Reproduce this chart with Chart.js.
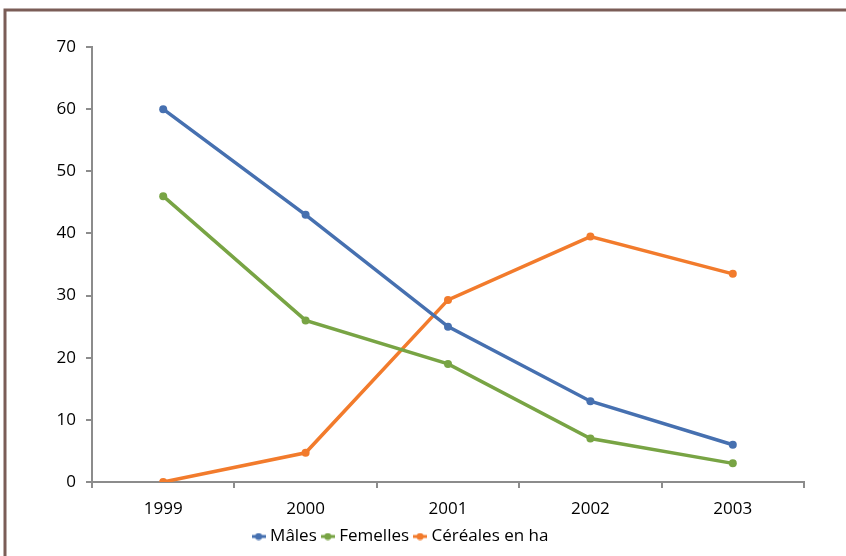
<!DOCTYPE html>
<html>
<head>
<meta charset="utf-8">
<script src="https://cdn.jsdelivr.net/npm/chart.js@4.4.0/dist/chart.umd.min.js"></script>
<style>
  html, body { margin: 0; padding: 0; background: #fff; }
  #wrap { width: 846px; height: 556px; position: relative; }
</style>
</head>
<body>
<div id="wrap"><canvas id="myChart" width="846" height="556"></canvas></div>
<script>
// data
const years = ['1999', '2000', '2001', '2002', '2003'];
const males = [60, 43, 25, 13, 6];
const females = [46, 26, 19, 7, 3];
const cereals = [0, 4.7, 29.3, 39.5, 33.5];
const seriesNames = ['Mâles', 'Femelles', 'Céréales en ha'];

const blueColor = '#4670b0';
const greenColor = '#78a444';
const orangeColor = '#f27b2c';
const axisColor = '#8c8c8c';

// little line-with-dot marker for the legend
function legendMarker(color){
  let c = document.createElement('canvas');
  c.width = 14; c.height = 8;
  let ctx = c.getContext('2d');
  ctx.strokeStyle = color;
  ctx.lineWidth = 3;
  ctx.beginPath();
  ctx.moveTo(0, 4); ctx.lineTo(14, 4);
  ctx.stroke();
  ctx.fillStyle = color;
  ctx.beginPath();
  ctx.arc(7, 4, 3.5, 0, Math.PI * 2);
  ctx.fill();
  return c;
}

// frame lines on top and left, like the cropped border in the picture
const framePlugin = {
  id: 'frame',
  beforeDraw(chart){
    const ctx = chart.ctx;
    ctx.save();
    ctx.strokeStyle = '#7b5d57';
    ctx.lineWidth = 3;
    ctx.beginPath();
    ctx.moveTo(5, 560);
    ctx.lineTo(5, 10);
    ctx.lineTo(850, 10);
    ctx.stroke();
    ctx.restore();
  }
};

function makeSet(label, values, color){
  return {
    label: label,
    data: values,
    borderColor: color,
    backgroundColor: color,
    borderWidth: 3.5,
    pointRadius: 4,
    pointHoverRadius: 4,
    pointBorderWidth: 0,
    tension: 0,
    pointStyle: 'circle'
  };
}

const data = {
  labels: years,
  datasets: [
    makeSet(seriesNames[0], males, blueColor),
    makeSet(seriesNames[1], females, greenColor),
    makeSet(seriesNames[2], cereals, orangeColor)
  ]
};

const markers = [legendMarker(blueColor), legendMarker(greenColor), legendMarker(orangeColor)];

const config = {
  type: 'line',
  data: data,
  plugins: [framePlugin],
  options: {
    responsive: false,
    animation: false,
    layout: { padding: { left: 0, right: 42, top: 47, bottom: 1 } },
    plugins: {
      tooltip: { enabled: false },
      legend: {
        position: 'bottom',
        labels: {
          color: '#000',
          font: { family: 'Open Sans', size: 17 },
          usePointStyle: true,
          pointStyleWidth: 6,
          padding: 8,
          generateLabels(chart){
            return chart.data.datasets.map((ds, i) => ({
              text: ds.label,
              pointStyle: markers[i],
              fillStyle: ds.borderColor,
              strokeStyle: ds.borderColor,
              lineWidth: 0,
              fontColor: '#000',
              datasetIndex: i,
              hidden: false
            }));
          }
        }
      }
    },
    scales: {
      x: {
        offset: true,
        grid: {
          offset: true,
          drawOnChartArea: false,
          drawTicks: true,
          tickLength: 6,
          color: axisColor,
          lineWidth: 2
        },
        border: { color: axisColor, width: 2 },
        ticks: {
          color: '#000',
          font: { family: 'Open Sans', size: 17 },
          padding: 11,
          maxRotation: 0
        },
        afterFit(scale){ scale.height = 38; }
      },
      y: {
        min: 0,
        max: 70,
        grid: {
          drawOnChartArea: false,
          drawTicks: true,
          tickLength: 6,
          color: axisColor,
          lineWidth: 2
        },
        border: { color: axisColor, width: 2 },
        ticks: {
          stepSize: 10,
          color: '#000',
          font: { family: 'Open Sans', size: 17 },
          padding: 10
        },
        afterFit(scale){ scale.width = 92; }
      }
    }
  }
};

var myChart = new Chart(document.getElementById('myChart'), config);
</script>
</body>
</html>
